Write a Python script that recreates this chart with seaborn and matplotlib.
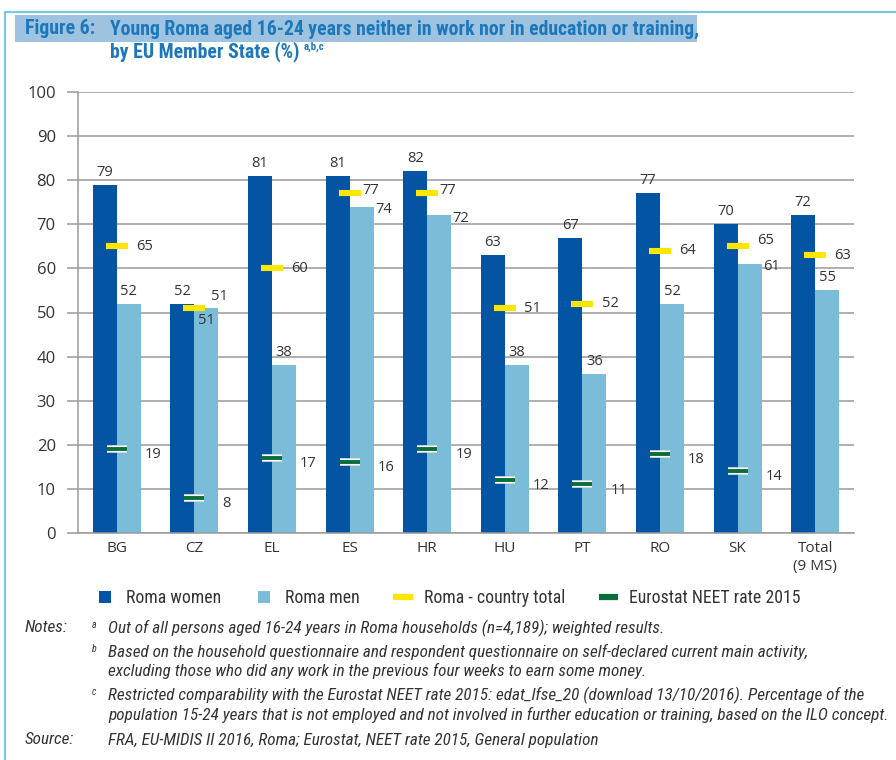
import matplotlib
matplotlib.use("Agg")
import matplotlib.pyplot as plt
import matplotlib.patheffects as pe
from matplotlib.lines import Line2D
from matplotlib.patches import Rectangle
import seaborn as sns
import pandas as pd
import numpy as np

categories = ["BG", "CZ", "EL", "ES", "HR", "HU", "PT", "RO", "SK", "Total\n(9 MS)"]
roma_women = [79, 52, 81, 81, 82, 63, 67, 77, 70, 72]
roma_men = [52, 51, 38, 74, 72, 38, 36, 52, 61, 55]
roma_country_total = [65, 51, 60, 77, 77, 51, 52, 64, 65, 63]
eurostat_neet = [19, 8, 17, 16, 19, 12, 11, 18, 14, None]
yticks = list(range(0, 101, 10))

series_names = ["Roma women", "Roma men", "Roma - country total", "Eurostat NEET rate 2015"]
C_WOMEN = "#0354A3"
C_MEN = "#7BBCD8"
C_YELLOW = "#FFE500"
C_GREEN = "#0A6E3A"
C_TITLE = "#1C78BA"
C_BORDER = "#7CC6E0"
C_TEXT = "#333333"

sns.set_theme(style="white")
NUM_FONT = ["Open Sans", "DejaVu Sans"]
NARROW = ["Roboto Condensed", "Roboto", "DejaVu Sans"]
plt.rcParams["font.family"] = NUM_FONT

df = pd.DataFrame({
    "category": categories * 2,
    "series": [series_names[0]] * len(categories) + [series_names[1]] * len(categories),
    "value": roma_women + roma_men,
})

W, H = 896, 760
fig = plt.figure(figsize=(W / 100, H / 100), dpi=100)
ax = fig.add_axes([78 / W, 1 - 533 / H, (854 - 78) / W, (533 - 92) / H])

sns.barplot(data=df, x="category", y="value", hue="series", order=categories,
            hue_order=series_names[:2], palette=[C_WOMEN, C_MEN], width=0.62,
            gap=0, linewidth=0, saturation=1, ax=ax, legend=False, errorbar=None)

ax.set_xlim(-0.5, len(categories) - 0.5)
ax.set_ylim(0, 100)
ax.set_yticks(yticks)
ax.yaxis.grid(True, color="#9a9a9a", linewidth=1.1)
ax.set_axisbelow(True)
for s in ["top", "right"]:
    ax.spines[s].set_visible(False)
for s in ["left", "bottom"]:
    ax.spines[s].set_color("#9a9a9a")
    ax.spines[s].set_linewidth(1.1)
ax.tick_params(axis="y", length=8, width=1.1, color="#9a9a9a", pad=8, labelsize=12, labelcolor=C_TEXT, left=True)
ax.tick_params(axis="x", length=0, pad=6, labelsize=11, labelcolor=C_TEXT)
ax.set_xlabel("")
ax.set_ylabel("")

bw = 0.31
half_dash = 0.142
x_pos = np.arange(len(categories))

# Bar value labels
for i, (w, m) in enumerate(zip(roma_women, roma_men)):
    ax.annotate(f"{w}", (x_pos[i] - bw / 2, w), xytext=(0, 9), textcoords="offset points",
                ha="center", va="center", fontsize=10.5, color=C_TEXT)
    cat = categories[i]
    if cat == "CZ":
        ax.annotate(f"{m}", (x_pos[i] + bw / 2, m), xytext=(0, -9), textcoords="offset points",
                    ha="center", va="center", fontsize=10.5, color=C_TEXT)
    elif cat in ("ES", "HR", "SK"):
        ax.annotate(f"{m}", (x_pos[i] + bw, m), xytext=(1, -2), textcoords="offset points",
                    ha="left", va="center", fontsize=10.5, color=C_TEXT)
    else:
        ax.annotate(f"{m}", (x_pos[i] + bw / 2, m), xytext=(0, 9), textcoords="offset points",
                    ha="center", va="center", fontsize=10.5, color=C_TEXT)

# Yellow country total dashes
ax.hlines(roma_country_total, x_pos - half_dash, x_pos + half_dash, colors=C_YELLOW,
          linewidth=4.4, zorder=4, capstyle="butt")
for i, v in enumerate(roma_country_total):
    cat = categories[i]
    off = (6, 0)
    if cat == "CZ":
        off = (4, 8)
    elif cat in ("ES", "HR"):
        off = (1, 2)
    elif cat == "SK":
        off = (6, 4)
    ax.annotate(f"{v}", (x_pos[i] + half_dash, v), xytext=off, textcoords="offset points",
                ha="left", va="center", fontsize=10.5, color=C_TEXT)

# Green Eurostat dashes
gi = [i for i, v in enumerate(eurostat_neet) if v is not None]
gv = [eurostat_neet[i] for i in gi]
gx = x_pos[gi]
ax.hlines(gv, gx - 0.13, gx + 0.13, colors=C_GREEN, linewidth=2.8, zorder=5, capstyle="butt",
          path_effects=[pe.Stroke(linewidth=5.5, foreground="#d8d8d8"),
                        pe.Stroke(linewidth=4.6, foreground="white"), pe.Normal()])
for x, v in zip(gx, gv):
    ax.annotate(f"{v}", (x + 0.13, v), xytext=(13, -4), textcoords="offset points",
                ha="left", va="center", fontsize=10.5, color=C_TEXT)

renderer = fig.canvas.get_renderer()


def width_px(artist):
    return artist.get_window_extent(renderer).width


# Legend (sized so that it spans the same width as the reference)
handles = [
    Line2D([], [], linestyle="none", marker="s", markersize=9, markerfacecolor=C_WOMEN, markeredgewidth=0),
    Line2D([], [], linestyle="none", marker="s", markersize=9, markerfacecolor=C_MEN, markeredgewidth=0),
    Line2D([], [], color=C_YELLOW, linewidth=4.5, solid_capstyle="butt"),
    Line2D([], [], color=C_GREEN, linewidth=4.5, solid_capstyle="butt"),
]
leg_size = 13.0
for _ in range(3):
    leg = fig.legend(handles, series_names, loc="center", bbox_to_anchor=(448 / W, 1 - 598 / H),
                     ncol=4, frameon=False, handlelength=1.1, handletextpad=0.6, columnspacing=1.9,
                     prop={"family": NARROW, "size": leg_size})
    wpx = width_px(leg)
    leg.remove()
    leg_size *= (704 + 16) / wpx
leg = fig.legend(handles, series_names, loc="center", bbox_to_anchor=(448 / W, 1 - 598 / H),
                 ncol=4, frameon=False, handlelength=1.1, handletextpad=0.6, columnspacing=1.9,
                 prop={"family": NARROW, "size": leg_size})
for t in leg.get_texts():
    t.set_color(C_TEXT)

# Frame and title highlight
fig.add_artist(Line2D([5 / W, 5 / W, 1.0], [0.0, 1 - 12 / H, 1 - 12 / H], transform=fig.transFigure,
                      color=C_BORDER, linewidth=1.6))
fig.add_artist(Rectangle((15 / W, 1 - 42 / H), (697 - 15) / W, 27 / H, transform=fig.transFigure,
                         facecolor="#9DC3E0", edgecolor="none", zorder=0))
tkw = dict(family=NARROW, fontsize=13, fontweight="bold", color=C_TITLE, va="center", ha="left")
t0 = fig.text(25 / W, 1 - 29 / H, "Figure 6:", **tkw)
t1 = fig.text(110 / W, 1 - 29 / H, "Young Roma aged 16-24 years neither in work nor in education or training,", **tkw)
t2 = fig.text(110 / W, 1 - 52 / H, "by EU Member State (%)", **tkw)
ts = 13 * 585 / width_px(t1)
for t in (t0, t1, t2):
    t.set_fontsize(ts)
t2_right = t2.get_window_extent(renderer).x1
fig.text((t2_right + 4) / W, 1 - 47 / H, "a,b,c", family=NARROW, fontsize=ts * 0.55,
         fontweight="bold", color=C_TITLE, va="center", ha="left")

# Notes
nkw = dict(family=NARROW, style="italic", fontsize=11, color=C_TEXT, va="center", ha="left")
note_texts = [fig.text(25 / W, 1 - 628 / H, "Notes:", **nkw)]
notes = [
    ("a", 628, "Out of all persons aged 16-24 years in Roma households (n=4,189); weighted results."),
    ("b", 652, "Based on the household questionnaire and respondent questionnaire on self-declared current main activity,"),
    (None, 671, "excluding those who did any work in the previous four weeks to earn some money."),
    ("c", 695, "Restricted comparability with the Eurostat NEET rate 2015: edat_lfse_20 (download 13/10/2016). Percentage of the"),
    (None, 715, "population 15-24 years that is not employed and not involved in further education or training, based on the ILO concept."),
]
longest = None
for sup, y, txt in notes:
    if sup:
        fig.text(92 / W, 1 - (y - 3) / H, sup, family=NARROW, style="italic", fontsize=7,
                 color=C_TEXT, va="center", ha="left")
    t = fig.text(108 / W, 1 - y / H, txt, **nkw)
    note_texts.append(t)
    if y == 715:
        longest = t
note_texts.append(fig.text(25 / W, 1 - 740 / H, "Source:", **nkw))
note_texts.append(fig.text(108 / W, 1 - 740 / H,
                           "FRA, EU-MIDIS II 2016, Roma; Eurostat, NEET rate 2015, General population", **nkw))
ns = 11 * (884 - 108) / width_px(longest)
for t in note_texts:
    t.set_fontsize(ns)

fig.savefig("out.png", dpi=100)
